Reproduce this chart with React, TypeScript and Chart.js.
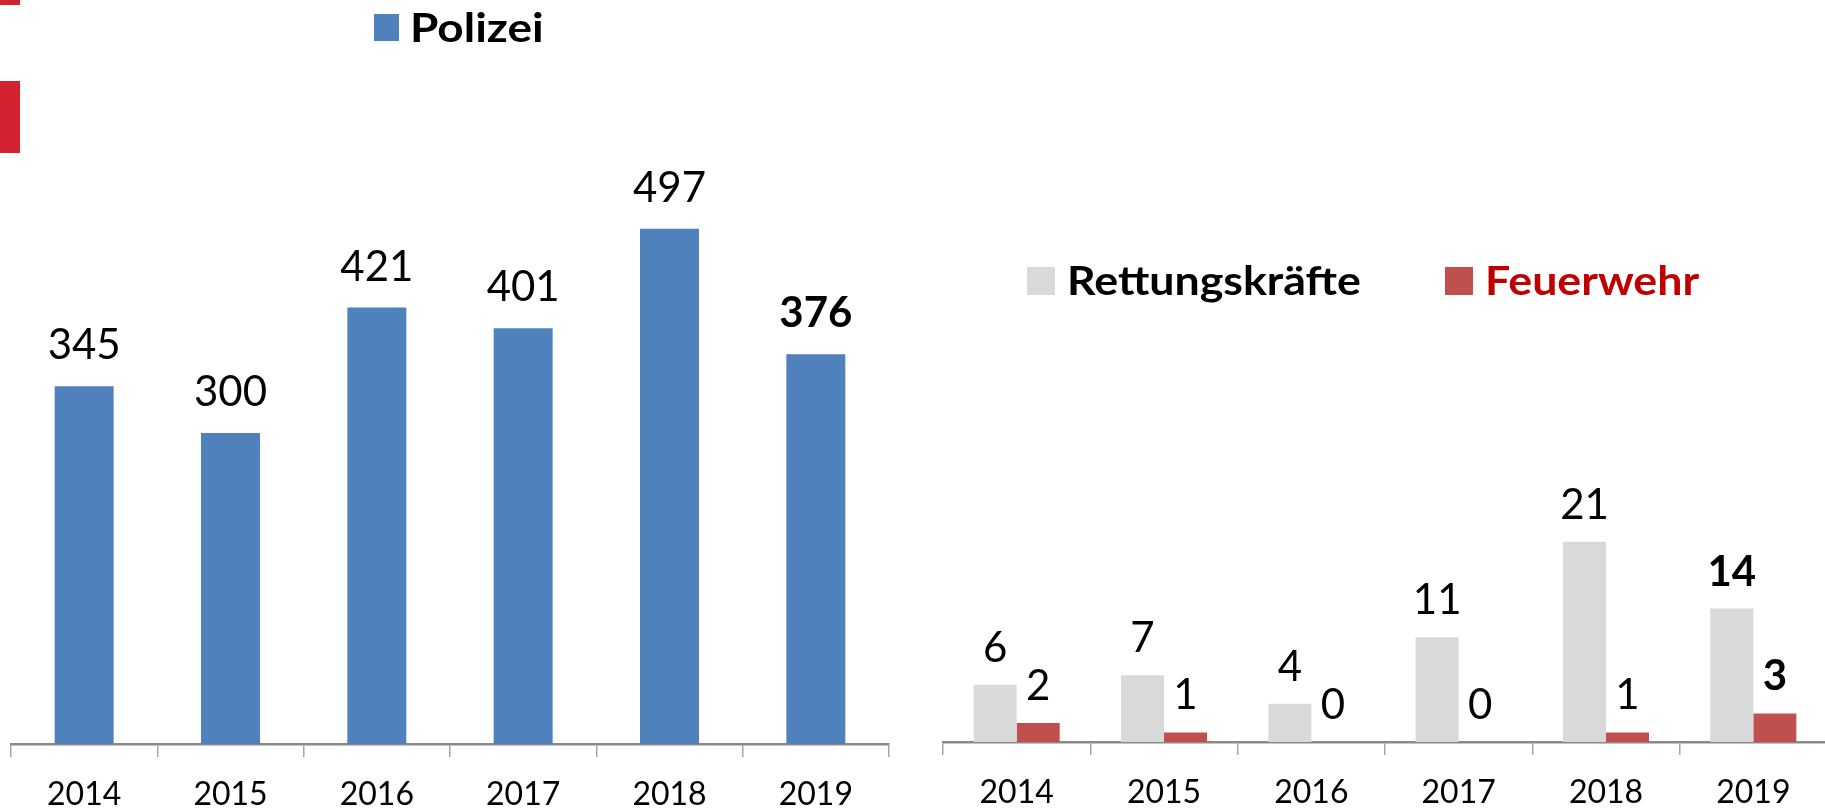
import React, { useEffect, useRef } from "react";
import { Chart, registerables } from "chart.js";

Chart.register(...registerables);

const years = ["2014", "2015", "2016", "2017", "2018", "2019"];
const polizei = [345, 300, 421, 401, 497, 376];
const rettungskraefte = [6, 7, 4, 11, 21, 14];
const feuerwehr = [2, 1, 0, 0, 1, 3];
const highlightIndex = 5;

const FONT = "Lato, 'Liberation Sans', sans-serif";

const valueLabels = {
  id: "valueLabels",
  afterDatasetsDraw(chart: any, _args: any, opts: any) {
    const ctx = chart.ctx;
    ctx.save();
    ctx.textAlign = "center";
    ctx.textBaseline = "alphabetic";
    ctx.fillStyle = "#000";
    chart.data.datasets.forEach((ds: any, di: number) => {
      const meta = chart.getDatasetMeta(di);
      meta.data.forEach((el: any, i: number) => {
        const bold = i === opts.boldIndex;
        ctx.font = `${bold ? "bold " : ""}${opts.size}px ${FONT}`;
        ctx.fillText(String(ds.data[i]), el.x, el.y - opts.gap);
      });
    });
    ctx.restore();
  },
};

const boxLegend = {
  id: "boxLegend",
  afterDraw(chart: any, _args: any, opts: any) {
    const ctx = chart.ctx;
    chart.data.datasets.forEach((ds: any, di: number) => {
      const x = opts.x[di];
      ctx.save();
      ctx.fillStyle = ds.backgroundColor;
      ctx.fillRect(x, opts.top, opts.boxW, opts.boxH);
      ctx.fillStyle = opts.colors[di];
      ctx.font = `bold ${opts.size}px ${FONT}`;
      ctx.textAlign = "left";
      ctx.textBaseline = "alphabetic";
      ctx.translate(x + opts.boxW + opts.gap, opts.baseline);
      ctx.scale(opts.stretch, 1);
      ctx.fillText(ds.label, 0, 0);
      ctx.restore();
    });
  },
};

function xAxis(height: number) {
  return {
    grid: {
      display: true,
      drawOnChartArea: false,
      drawTicks: true,
      tickLength: 13,
      color: "#A6A6A6",
      lineWidth: 1.5,
      offset: true,
    },
    border: { display: true, color: "#8A8A8A", width: 2.5 },
    ticks: {
      color: "#000",
      font: { family: FONT, size: 32 },
      padding: 18,
      autoSkip: false,
      maxRotation: 0,
    },
    afterFit: (s: any) => {
      s.height = height;
    },
  };
}

function LeftChart() {
  const ref = useRef<HTMLCanvasElement>(null);
  useEffect(() => {
    const chart = new Chart(ref.current!, {
      type: "bar",
      data: {
        labels: years,
        datasets: [
          {
            label: "Polizei",
            data: polizei,
            backgroundColor: "#4F81BD",
            categoryPercentage: 1,
            barPercentage: 0.403,
          },
        ],
      },
      options: {
        responsive: false,
        animation: false,
        layout: { padding: { left: 11, right: 25, top: 122, bottom: 0 } },
        scales: {
          x: xAxis(66) as any,
          y: { display: false, min: 0, max: 600 },
        },
        plugins: {
          legend: { display: false },
          tooltip: { enabled: false },
          valueLabels: { size: 42, gap: 27, boldIndex: highlightIndex },
          boxLegend: {
            x: [374],
            top: 14,
            boxW: 25,
            boxH: 27,
            gap: 11,
            size: 41,
            stretch: 1.12,
            baseline: 42,
            colors: ["#000"],
          },
        } as any,
      },
      plugins: [valueLabels, boxLegend],
    });
    return () => chart.destroy();
  }, []);
  return (
    <canvas
      ref={ref}
      width={914}
      height={810}
      style={{ position: "absolute", left: 0, top: 0 }}
    />
  );
}

function RightChart() {
  const ref = useRef<HTMLCanvasElement>(null);
  useEffect(() => {
    const chart = new Chart(ref.current!, {
      type: "bar",
      data: {
        labels: years,
        datasets: [
          {
            label: "Rettungskräfte",
            data: rettungskraefte,
            backgroundColor: "#D9D9D9",
            categoryPercentage: 0.584,
            barPercentage: 1,
          },
          {
            label: "Feuerwehr",
            data: feuerwehr,
            backgroundColor: "#C0504D",
            categoryPercentage: 0.584,
            barPercentage: 1,
          },
        ],
      },
      options: {
        responsive: false,
        animation: false,
        layout: { padding: { left: 28, right: 3, top: 456, bottom: 0 } },
        scales: {
          x: xAxis(68) as any,
          y: { display: false, min: 0, max: 30 },
        },
        plugins: {
          legend: { display: false },
          tooltip: { enabled: false },
          valueLabels: { size: 42, gap: 23, boldIndex: highlightIndex },
          boxLegend: {
            x: [112, 530],
            top: 267,
            boxW: 28,
            boxH: 28,
            gap: 12,
            size: 41,
            stretch: 1.09,
            baseline: 295,
            colors: ["#000", "#C00000"],
          },
        } as any,
      },
      plugins: [valueLabels, boxLegend],
    });
    return () => chart.destroy();
  }, []);
  return (
    <canvas
      ref={ref}
      width={915}
      height={810}
      style={{ position: "absolute", left: 915, top: 0 }}
    />
  );
}

export default function App() {
  return (
    <div
      style={{
        position: "fixed",
        left: 0,
        top: 0,
        width: 1825,
        height: 810,
        overflow: "hidden",
        background: "#fff",
      }}
    >
      <div style={{ position: "absolute", left: 0, top: 0, width: 20, height: 5, background: "#D42330" }} />
      <div style={{ position: "absolute", left: 0, top: 81, width: 20, height: 72, background: "#D42330" }} />
      <LeftChart />
      <RightChart />
    </div>
  );
}
